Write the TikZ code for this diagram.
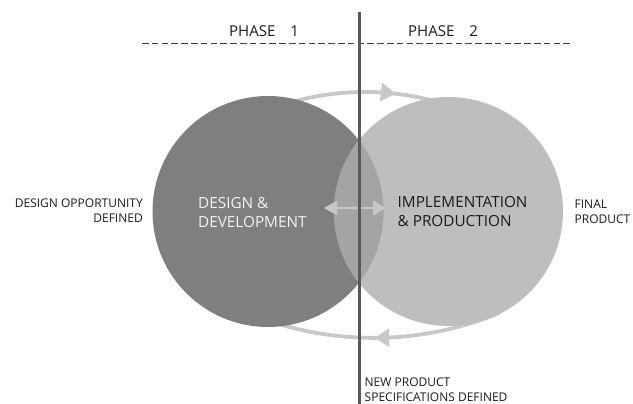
\documentclass[tikz,border=0pt]{standalone}
\usepackage{fontspec}
\setmainfont{Open Sans}
\usetikzlibrary{arrows.meta,decorations.markings}
\definecolor{darkc}{HTML}{7F7F7F}
\definecolor{lightc}{HTML}{BEBEBE}
\definecolor{overc}{HTML}{A4A4A4}
\definecolor{arcc}{HTML}{C8C8C8}
\definecolor{linec}{HTML}{595959}
\definecolor{dashc}{HTML}{3C3C3C}
\definecolor{txtc}{HTML}{1A1A1A}
\begin{document}
\begin{tikzpicture}[x=1pt,y=-1pt,
  bigtxt/.style={font=\fontsize{15.3}{19}\selectfont, inner sep=0pt},
  smalltxt/.style={font=\fontsize{12}{15}\selectfont, inner sep=0pt, text=txtc},
  phasetxt/.style={font=\fontsize{15}{18}\selectfont, inner sep=0pt, text=txtc},
  cyclearc/.style={draw=arcc, line width=3.8pt},
  headtop/.style={postaction={decorate, decoration={markings,
      mark=at position 0.63 with {\arrow[color=arcc]{Triangle[length=15pt,width=18pt]}}}}},
  headbot/.style={postaction={decorate, decoration={markings,
      mark=at position 0.50 with {\arrow[color=arcc]{Triangle[length=14pt,width=18pt]}}}}},
  phasecircle/.style={circle, inner sep=0pt, draw=none},
]
\useasboundingbox (0,0) rectangle (633,404);

% cycle arcs (behind circles)
\coordinate (ta) at (250,117.7);
\coordinate (tb) at (480,117.7);
\coordinate (ba) at (500,312.6);
\coordinate (bb) at (250,314);
\draw[cyclearc, headtop] (ta) .. controls (322.9,83.4) and (407.1,83.4) .. (tb);
\draw[cyclearc, headbot] (ba) .. controls (420.3,345.9) and (330.2,346.2) .. (bb);

% circles
\node[phasecircle, fill=darkc, minimum size=231pt] (L) at (268,211.5) {};
\node[phasecircle, fill=lightc, minimum size=229pt] (R) at (448.5,211.5) {};
\begin{scope}
  \clip (268,211.5) circle[radius=115.5];
  \fill[overc] (448.5,211.5) circle[radius=114.5];
\end{scope}

% texts in circles
\node[bigtxt, text=white!95!black, align=left, anchor=west] (dd) at (198,212.5) {DESIGN \&\\DEVELOPMENT};
\node[bigtxt, text=txtc, align=left, anchor=west] (ip) at (397.5,212) {IMPLEMENTATION\\\& PRODUCTION};

% outer texts
\node[smalltxt, align=right, anchor=east] (dop) at (143,210.5) {DESIGN OPPORTUNITY\\DEFINED};
\node[smalltxt, align=left, anchor=west] (fp) at (574.5,211.5) {FINAL\\PRODUCT};
\node[smalltxt, align=left, anchor=west] (nps) at (364.5,389.5) {NEW PRODUCT\\SPECIFICATIONS DEFINED};

% middle double arrow
\coordinate (ml) at (324,208);
\coordinate (mr) at (386,208);
\draw[arcc, line width=2.5pt, {Triangle[length=13pt,width=14pt]}-{Triangle[length=13pt,width=14pt]}] (ml) -- (mr);

% phase header
\coordinate (da) at (142,43.5);
\coordinate (db) at (572,43.5);
\draw[dashc, line width=1.3pt, dash pattern=on 6.5pt off 3.3pt] (da) -- (db);
\node[phasetxt, anchor=west] (p1) at (229,31.5) {PHASE\hspace{15pt}1};
\node[phasetxt, anchor=west] (p2) at (408,31.5) {PHASE\hspace{15pt}2};

% vertical divider
\coordinate (vt) at (359,12);
\coordinate (vb) at (359,404);
\draw[linec, line width=3pt] (vt) -- (vb);
\end{tikzpicture}
\end{document}
